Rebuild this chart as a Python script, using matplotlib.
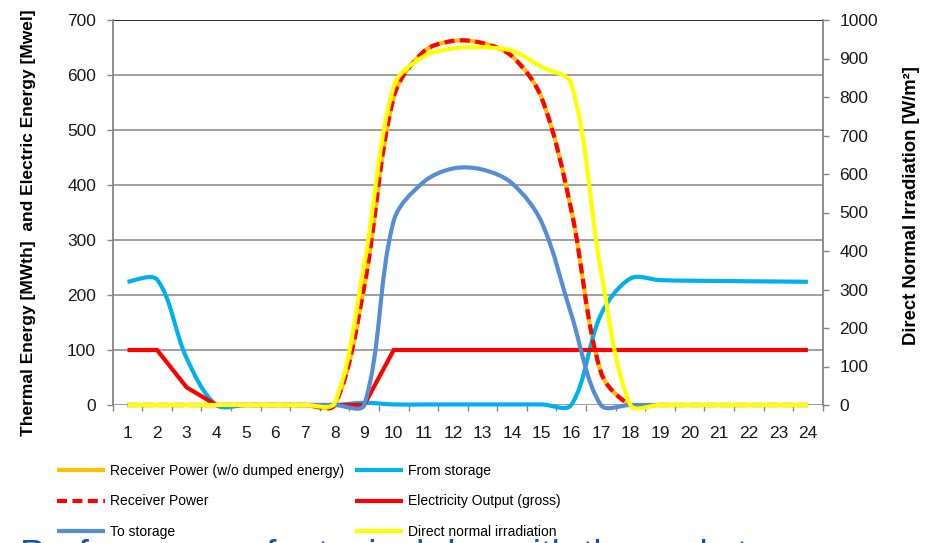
import math
import matplotlib
matplotlib.use("Agg")
import matplotlib.pyplot as plt
from matplotlib.path import Path
from matplotlib.patches import PathPatch
from matplotlib.lines import Line2D
from matplotlib import font_manager

# ---- data -------------------------------------------------------------
hours = list(range(1, 25))

receiver_power_full = [0, 0, 0, 0, 0, 0, 0, 0, 215, 560, 642, 662,
                       658, 634, 558, 355, 60, 0, 0, 0, 0, 0, 0, 0]
receiver_power = [0, 0, 0, 0, 0, 0, 0, 0, 215, 560, 642, 662,
                  658, 634, 558, 355, 60, 0, 0, 0, 0, 0, 0, 0]
to_storage = [0, 0, 0, 0, 0, 0, 0, 0, 0, 335, 405, 430,
              428, 403, 332, 165, 0, 0, 0, 0, 0, 0, 0, 0]
from_storage = [224, 228, 85, 0, 0, 0, 0, 0, 4, 1, 1, 1,
                1, 1, 1, 0, 164, 230, 227, 226, 225.5, 225, 224.5, 224]
electricity = [100, 100, 32, 0, 0, 0, 0, 0, 0, 100, 100, 100,
               100, 100, 100, 100, 100, 100, 100, 100, 100, 100, 100, 100]
dni = [0, 0, 0, 0, 0, 0, 0, 5, 365, 828, 905, 926,
       929, 920, 878, 835, 350, 0, 0, 0, 0, 0, 0, 0]

left_ticks = [0, 100, 200, 300, 400, 500, 600, 700]
right_ticks = [0, 100, 200, 300, 400, 500, 600, 700, 800, 900, 1000]

# ---- fonts ------------------------------------------------------------
installed = {f.name for f in font_manager.fontManager.ttflist}
base_font = "Liberation Sans" if "Liberation Sans" in installed else "DejaVu Sans"
if "Liberation Sans Narrow" in installed:
    legend_prop = {"family": ["Liberation Sans Narrow", "DejaVu Sans"], "size": 11}
else:
    legend_prop = {"family": [base_font, "DejaVu Sans"], "size": 10}
plt.rcParams["font.family"] = [base_font, "DejaVu Sans"]

GRAY = "#868686"
C_ORANGE = "#FFC000"
C_RED = "#FF0000"
C_STEEL = "#558ED5"
C_SKY = "#00B0F0"
C_YELLOW = "#FFFF00"
LW = 3.0
DASH = (0, (2.4, 1.3))

W, H = 931, 543
AX_L, AX_R, AX_T, AX_B = 112.7, 822.7, 20.0, 405.0


def smooth_path(xs, ys, sx, sy):
    """Cubic Bezier through every point; tangent lengths follow the
    on-screen chord lengths so short steps do not overshoot."""
    pts = [(x * sx, y * sy) for x, y in zip(xs, ys)]
    n = len(pts)
    c_in = [None] * n
    c_out = [None] * n
    for i in range(n):
        if i == 0:
            tx, ty = pts[1][0] - pts[0][0], pts[1][1] - pts[0][1]
            c_out[i] = (pts[0][0] + tx / 6, pts[0][1] + ty / 6)
            continue
        if i == n - 1:
            tx, ty = pts[i][0] - pts[i - 1][0], pts[i][1] - pts[i - 1][1]
            c_in[i] = (pts[i][0] - tx / 6, pts[i][1] - ty / 6)
            continue
        tx = pts[i + 1][0] - pts[i - 1][0]
        ty = pts[i + 1][1] - pts[i - 1][1]
        d0 = math.hypot(pts[i][0] - pts[i - 1][0], pts[i][1] - pts[i - 1][1])
        d1 = math.hypot(pts[i + 1][0] - pts[i][0], pts[i + 1][1] - pts[i][1])
        f0 = d0 / (d0 + d1) / 3
        f1 = d1 / (d0 + d1) / 3
        c_in[i] = (pts[i][0] - tx * f0, pts[i][1] - ty * f0)
        c_out[i] = (pts[i][0] + tx * f1, pts[i][1] + ty * f1)
    verts = [pts[0]]
    codes = [Path.MOVETO]
    for i in range(n - 1):
        verts += [c_out[i], c_in[i + 1], pts[i + 1]]
        codes += [Path.CURVE4] * 3
    verts = [(vx / sx, vy / sy) for vx, vy in verts]
    return Path(verts, codes)


def add_smooth(axis, xs, ys, color, ymax, ls="-", z=3):
    sx = (AX_R - AX_L) / 24.0
    sy = (AX_B - AX_T) / ymax
    patch = PathPatch(smooth_path(xs, ys, sx, sy), fill=False, edgecolor=color,
                      lw=LW, linestyle=ls, capstyle="butt", joinstyle="round",
                      transform=axis.transData, clip_on=False, zorder=z)
    axis.add_patch(patch)
    return patch


# ---- figure -----------------------------------------------------------
fig = plt.figure(figsize=(W / 100, H / 100), dpi=100)
ax = fig.add_axes([AX_L / W, 1 - AX_B / H, (AX_R - AX_L) / W, (AX_B - AX_T) / H])

ax.set_xlim(0.5, 24.5)
ax.set_ylim(0, 700)

# series in the order they are layered
add_smooth(ax, hours, receiver_power_full, C_ORANGE, 700, z=3)
add_smooth(ax, hours, from_storage, C_SKY, 700, z=4)
add_smooth(ax, hours, receiver_power, C_RED, 700, ls=DASH, z=5)
ax.plot(hours, electricity, color=C_RED, lw=LW, solid_joinstyle="miter",
        solid_capstyle="butt", zorder=6, clip_on=False)
add_smooth(ax, hours, to_storage, C_STEEL, 700, z=7)

ax2 = ax.twinx()
ax2.set_ylim(0, 1000)
add_smooth(ax2, hours, dni, C_YELLOW, 1000, z=8)

# grid / spines / ticks
for v in left_ticks[:-1]:
    ax.axhline(v, color=GRAY, lw=1.1, zorder=1)
ax.axhline(700, color="#1a1a1a", lw=1.3, zorder=1)

for a in (ax, ax2):
    for s in a.spines.values():
        s.set_visible(False)
ax.spines["left"].set_visible(True)
ax.spines["left"].set_color(GRAY)
ax.spines["left"].set_linewidth(1.3)
ax2.spines["right"].set_visible(True)
ax2.spines["right"].set_color(GRAY)
ax2.spines["right"].set_linewidth(1.3)

ax.set_xticks(hours)
ax.set_xticklabels([str(h) for h in hours])
ax.set_xticks([h + 0.5 for h in [0] + hours], minor=True)
ax.tick_params(axis="x", which="major", length=0, pad=15, labelsize=12.5,
               labelcolor="#1a1a1a")
ax.tick_params(axis="x", which="minor", length=4, width=1, color=GRAY)

ax.set_yticks(left_ticks)
ax.tick_params(axis="y", which="major", length=4, width=1, color=GRAY,
               pad=8, labelsize=12.5, labelcolor="#1a1a1a")
ax2.set_yticks(right_ticks)
ax2.tick_params(axis="y", which="major", length=4, width=1, color=GRAY,
                pad=8, labelsize=12.5, labelcolor="#1a1a1a")

fig.text(29 / W, 1 - 223 / H, "Thermal Energy [MWth]  and Electric Energy [Mwel]",
         rotation=90, ha="center", va="center", fontsize=12.5, fontweight="bold")
fig.text(912 / W, 1 - 206 / H, "Direct Normal Irradiation [W/m²]",
         rotation=90, ha="center", va="center", fontsize=13.3, fontweight="bold")

# legend: two columns, three rows
col1_handles = [
    Line2D([], [], color=C_ORANGE, lw=LW, solid_capstyle="butt"),
    Line2D([], [], color=C_RED, lw=LW, ls=DASH, dash_capstyle="butt"),
    Line2D([], [], color=C_STEEL, lw=LW, solid_capstyle="butt"),
]
col1_labels = ["Receiver Power (w/o dumped energy)", "Receiver Power", "To storage"]
col2_handles = [
    Line2D([], [], color=C_SKY, lw=LW, solid_capstyle="butt"),
    Line2D([], [], color=C_RED, lw=LW, solid_capstyle="butt"),
    Line2D([], [], color=C_YELLOW, lw=LW, solid_capstyle="butt"),
]
col2_labels = ["From storage", "Electricity Output (gross)", "Direct normal irradiation"]

fs = legend_prop["size"]
leg_kw = dict(loc="upper left", frameon=False, prop=legend_prop,
              handlelength=34.6 / fs, handletextpad=3.6 / fs,
              labelspacing=1.18 * 10 / fs, borderaxespad=0, borderpad=0)
leg1 = fig.legend(col1_handles, col1_labels,
                  bbox_to_anchor=(57 / W, 1 - 464 / H), **leg_kw)
leg2 = fig.legend(col2_handles, col2_labels,
                  bbox_to_anchor=(355 / W, 1 - 464 / H), **leg_kw)

# slide heading running off the bottom edge
fig.text(20 / W, 1 - 567 / H, "Performance of a typical day with thermal storage",
         ha="left", va="baseline", fontsize=27, color="#0E55A5")

fig.savefig("out.png", dpi=100)
